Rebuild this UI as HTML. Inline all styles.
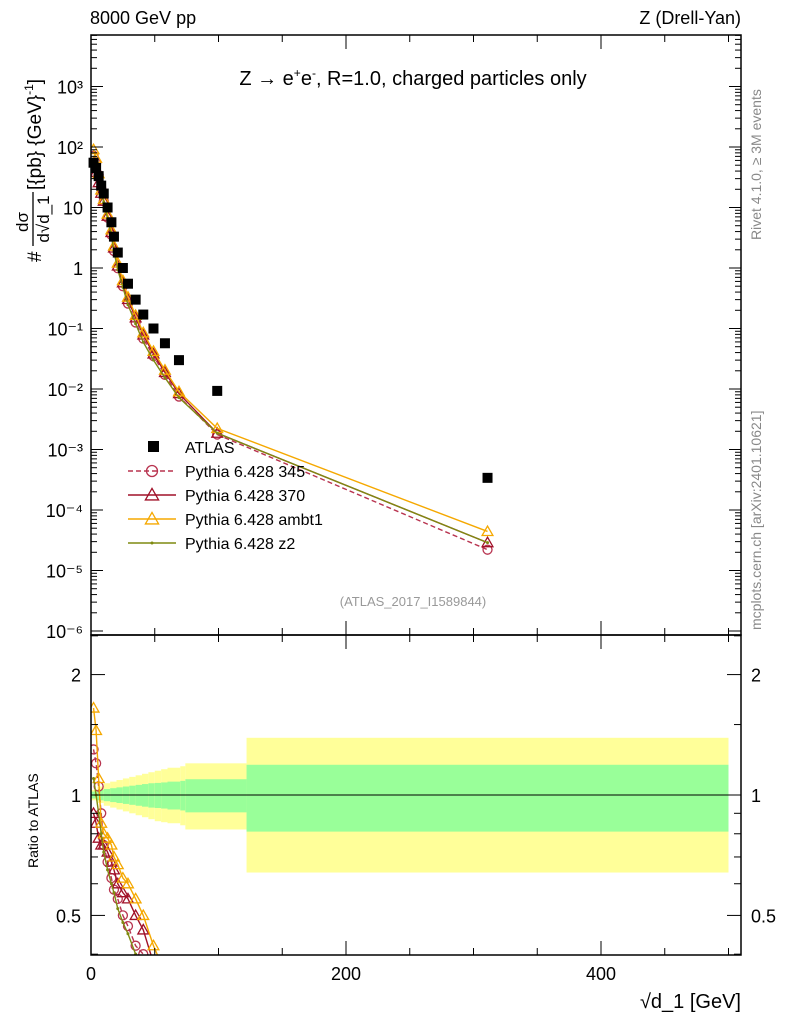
<!DOCTYPE html>
<html><head><meta charset="utf-8"><style>
html,body{margin:0;background:#fff;width:786px;height:1024px;overflow:hidden;}
svg{display:block;font-family:"Liberation Sans",sans-serif;}
</style></head><body>
<svg id="c" width="786" height="1024" viewBox="0 0 786 1024">
<text x="90" y="24" font-size="18">8000 GeV pp</text>
<text x="741" y="24" font-size="18" text-anchor="end">Z (Drell-Yan)</text>
<text x="413" y="85" font-size="20" text-anchor="middle">Z  →  e<tspan font-size="12" dy="-8">+</tspan><tspan dy="8">e</tspan><tspan font-size="12" dy="-8">-</tspan><tspan dy="8">, R=1.0, charged particles only</tspan></text>
<text x="413" y="606" font-size="13" fill="#999" text-anchor="middle">(ATLAS_2017_I1589844)</text>
<text transform="translate(761,240) rotate(-90)" font-size="14" fill="#888">Rivet 4.1.0, ≥ 3M events</text>
<text transform="translate(761,630) rotate(-90)" font-size="14" fill="#888">mcplots.cern.ch [arXiv:2401.10621]</text>
<g transform="translate(41,262) rotate(-90)">
 <text x="0" y="0" font-size="19">#</text>
 <text x="40" y="-13" font-size="17" text-anchor="middle">dσ</text>
 <line x1="16" x2="70" y1="-8" y2="-8" stroke="#000" stroke-width="1.3"/>
 <text x="43" y="8" font-size="17" text-anchor="middle">d√d_1</text>
 <text x="72" y="0" font-size="19">[{pb} {GeV}<tspan font-size="12" dy="-8">-1</tspan><tspan dy="8">]</tspan></text>
</g>
<text transform="translate(38,868) rotate(-90)" font-size="14">Ratio to ATLAS</text>
<text x="741" y="1008" font-size="20" text-anchor="end">√d_1 [GeV]</text>
<g id="g"></g>
</svg>
<script>
const atlasX=[2,4,6,8,10,13,16,18,21,25,29,35,41,49,58,69,99,311];
const atlasY=[55,45,33,23,17,10,5.7,3.3,1.8,1.0,0.55,0.30,0.17,0.10,0.057,0.030,0.0093,0.00034];
const r345=[1.3,1.2,1.05,0.9,0.75,0.68,0.62,0.58,0.55,0.5,0.47,0.42,0.4,0.35,0.3,0.25,0.19,0.065];
const r370=[0.9,0.85,0.78,0.75,0.75,0.72,0.68,0.65,0.6,0.57,0.55,0.5,0.46,0.38,0.33,0.28,0.2,0.085];
const rAmbt1=[1.65,1.45,1.1,0.85,0.8,0.78,0.75,0.7,0.67,0.62,0.6,0.55,0.5,0.42,0.36,0.3,0.24,0.13];
const rZ2=[1.1,1.0,0.9,0.8,0.72,0.65,0.6,0.57,0.52,0.48,0.45,0.4,0.35,0.3,0.27,0.24,0.2,0.085];
const bandEdges=[0,5,10,15,20,25,30,35,40,45,50,55,60,70,74,122,500];
const bandGreen=[0.02,0.03,0.035,0.04,0.045,0.05,0.055,0.06,0.065,0.07,0.072,0.075,0.08,0.085,0.095,0.19];
const bandYellow=[0.03,0.05,0.07,0.08,0.09,0.1,0.11,0.12,0.13,0.14,0.15,0.16,0.17,0.18,0.2,0.39];
const bandYellowLo=[0.03,0.045,0.06,0.07,0.08,0.09,0.1,0.11,0.12,0.13,0.14,0.145,0.15,0.16,0.18,0.36];
const xTicks=[0,200,400];
const yTicks=[-6,-5,-4,-3,-2,-1,0,1,2,3];
const yTickLabels=["10⁻⁶","10⁻⁵","10⁻⁴","10⁻³","10⁻²","10⁻¹","1","10","10²","10³"];
const rTicks=[0.5,1,2];

const NS="http://www.w3.org/2000/svg",G=document.getElementById('g');
const X0=91,X1=741,MT=35,MB=635,RT=635,RB=955;
const sx=v=>X0+v*1.275;
const sy=v=>268-Math.log10(v)*60.5;
const sr=v=>795-Math.log10(v)*400;
function mk(t,a,name,p){const e=document.createElementNS(NS,t);for(const k in a)e.setAttribute(k,a[k]);


(p||G).appendChild(e);return e;}
for(let i=0;i<bandGreen.length;i++){
 const x=sx(bandEdges[i]),w=sx(bandEdges[i+1])-x;
 mk('rect',{x:x,y:sr(1+bandYellow[i]),width:w,height:sr(1-bandYellowLo[i])-sr(1+bandYellow[i]),fill:'#ffff99'},'band-yellow');
 mk('rect',{x:x,y:sr(1+bandGreen[i]),width:w,height:sr(1-bandGreen[i])-sr(1+bandGreen[i]),fill:'#99ff99'},'band-green');
}
mk('line',{x1:X0,x2:sx(500),y1:sr(1),y2:sr(1),stroke:'#000','stroke-width':1},'ratio-reference-line');
const defs=mk('defs',{},'defs');
const cp=mk('clipPath',{id:'cr'},'ratio-clip',defs);mk('rect',{x:X0,y:RT,width:X1-X0,height:RB-RT},'clip-rect',cp);
const cm=mk('clipPath',{id:'cm'},'main-clip',defs);mk('rect',{x:X0,y:MT,width:X1-X0,height:MB-MT},'clip-rect',cm);
const series=[
 {r:r345,c:'#b8334f',dash:'5,3',m:'circle',n:'Pythia 6.428 345'},
 {r:r370,c:'#a01028',dash:'',m:'tri',n:'Pythia 6.428 370'},
 {r:rAmbt1,c:'#f5a800',dash:'',m:'tri',n:'Pythia 6.428 ambt1'},
 {r:rZ2,c:'#7f8a10',dash:'',m:'dot',n:'Pythia 6.428 z2'}];
function marker(g,m,x,y,c,s){
 if(m==='circle')mk('circle',{cx:x,cy:y,r:s,fill:'none',stroke:c,'stroke-width':1.3},'marker-circle',g);
 else if(m==='tri')mk('path',{d:`M${x-s*1.2},${y+s*0.9}L${x},${y-s*1.2}L${x+s*1.2},${y+s*0.9}Z`,fill:'none',stroke:c,'stroke-width':1.3},'marker-triangle',g);
 else mk('circle',{cx:x,cy:y,r:1.5,fill:c},'marker-dot',g);
}
const gm=mk('g',{'clip-path':'url(#cm)'},'main-series');
const gr=mk('g',{'clip-path':'url(#cr)'},'ratio-series');
series.forEach((s,k)=>{
 const ptsM=atlasX.map((x,i)=>[sx(x),sy(atlasY[i]*s.r[i])]);
 const ptsR=atlasX.map((x,i)=>[sx(x),sr(s.r[i])]);
 mk('polyline',{points:ptsM.map(p=>p.join(',')).join(' '),fill:'none',stroke:s.c,'stroke-width':1.4,'stroke-dasharray':s.dash},'mc-line-'+k,gm);
 mk('polyline',{points:ptsR.map(p=>p.join(',')).join(' '),fill:'none',stroke:s.c,'stroke-width':1.4,'stroke-dasharray':s.dash},'ratio-line-'+k,gr);
 ptsM.forEach(p=>marker(gm,s.m,p[0],p[1],s.c,4.5));
 ptsR.forEach(p=>marker(gr,s.m,p[0],p[1],s.c,4.5));
});
atlasX.forEach((x,i)=>{mk('rect',{x:sx(x)-5,y:sy(atlasY[i])-5,width:10,height:10,fill:'#000'},'atlas-point');});
mk('rect',{x:X0,y:MT,width:X1-X0,height:MB-MT,fill:'none',stroke:'#000','stroke-width':1.5},'main-frame');
mk('rect',{x:X0,y:RT,width:X1-X0,height:RB-RT,fill:'none',stroke:'#000','stroke-width':1.5},'ratio-frame');
yTicks.forEach((t,i)=>{
 const y=268-t*60.5;
 mk('line',{x1:X0,x2:X0+12,y1:y,y2:y,stroke:'#000'},'y-tick');
 mk('line',{x1:X1,x2:X1-12,y1:y,y2:y,stroke:'#000'},'y-tick');
 for(let m=2;m<10;m++){const yy=y-Math.log10(m)*60.5;if(yy<MT)continue;
  mk('line',{x1:X0,x2:X0+6,y1:yy,y2:yy,stroke:'#000'},'y-minor-tick');
  mk('line',{x1:X1,x2:X1-6,y1:yy,y2:yy,stroke:'#000'},'y-minor-tick');}
 const tx=mk('text',{x:X0-8,y:y+7,'font-size':18,'text-anchor':'end'},'y-tick-label');tx.textContent=yTickLabels[i];
});
rTicks.forEach(t=>{const y=sr(t);
 mk('line',{x1:X0,x2:X0+14,y1:y,y2:y,stroke:'#000'},'ratio-tick');
 mk('line',{x1:X1,x2:X1-14,y1:y,y2:y,stroke:'#000'},'ratio-tick');
 const a=mk('text',{x:X0-10,y:y+7,'font-size':18,'text-anchor':'end'},'ratio-tick-label');a.textContent=t;
 const b=mk('text',{x:X1+10,y:y+7,'font-size':18},'ratio-tick-label-right');b.textContent=t;});
[0.4,0.6,0.7,0.8,0.9,1.5,2.5].forEach(t=>{const y=sr(t);if(y<RT||y>RB)return;
 mk('line',{x1:X0,x2:X0+7,y1:y,y2:y,stroke:'#000'},'ratio-minor-tick');
 mk('line',{x1:X1,x2:X1-7,y1:y,y2:y,stroke:'#000'},'ratio-minor-tick');});
for(let v=0;v<=500;v+=50){const x=sx(v),L=v%200===0?14:7;
 [MT,RT].forEach(t=>mk('line',{x1:x,x2:x,y1:t,y2:t+L,stroke:'#000'},'x-tick-top'));
 [MB,RB].forEach(b=>mk('line',{x1:x,x2:x,y1:b,y2:b-L,stroke:'#000'},'x-tick'));}
xTicks.forEach(v=>{const t=mk('text',{x:sx(v),y:980,'font-size':18,'text-anchor':'middle'},'x-tick-label');t.textContent=v;});
const lg=mk('g',{},'legend');
mk('rect',{x:148,y:441,width:11,height:11,fill:'#000'},'legend-atlas-marker',lg);
let t=mk('text',{x:185,y:453,'font-size':16},'legend-atlas',lg);t.textContent='ATLAS';
series.forEach((s,k)=>{const y=471+k*24;
 mk('line',{x1:128,x2:176,y1:y,y2:y,stroke:s.c,'stroke-width':1.4,'stroke-dasharray':s.dash},'legend-line',lg);
 marker(lg,s.m,152,y,s.c,5.5);
 const tt=mk('text',{x:185,y:y+6,'font-size':16},'legend-entry',lg);tt.textContent=s.n;});
</script>
</body></html>
